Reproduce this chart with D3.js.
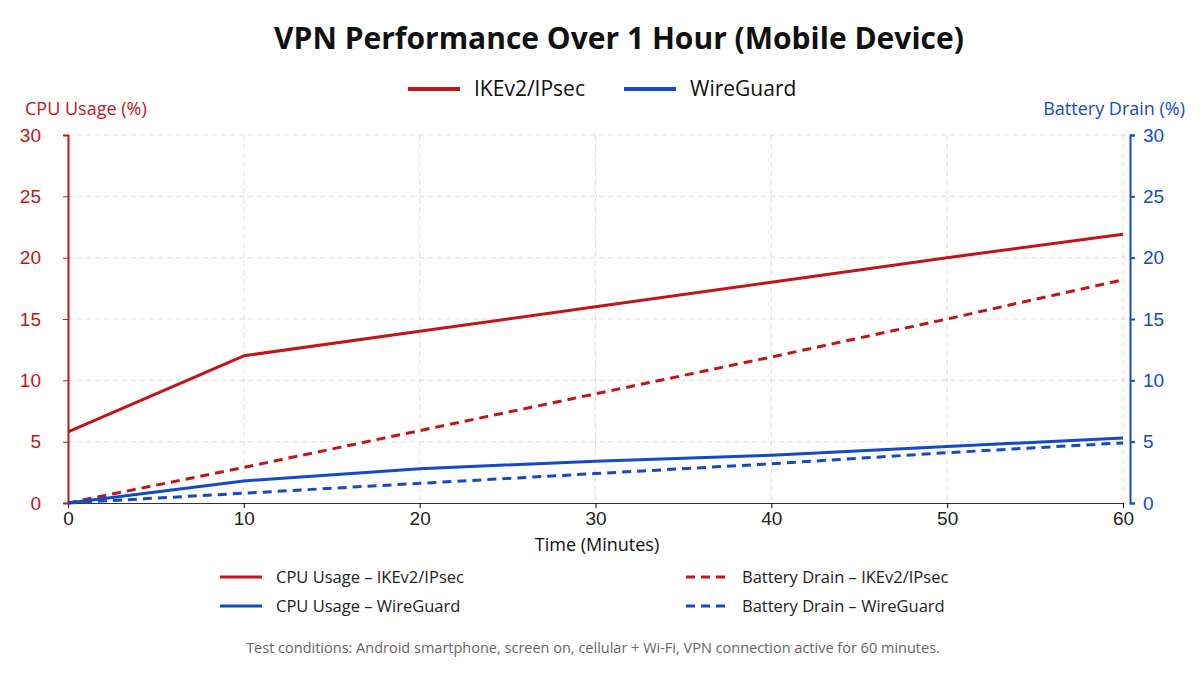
<!DOCTYPE html>
<html><head><meta charset="utf-8">
<script src="https://cdn.jsdelivr.net/npm/d3@7"></script>
<style>body{margin:0;background:#fff;font-family:"Open Sans",Roboto,sans-serif}</style>
</head><body><svg id="c" width="1200" height="675"></svg>
<script>
const minutes=[0,10,20,30,40,50,60];
const cpuIKE=[5.8,12,14,16,18,20,21.9];
const batIKE=[0,2.9,5.9,8.9,11.9,15,18.2];
const cpuWG=[0,1.8,2.8,3.4,3.9,4.6,5.3];
const batWG=[0,0.8,1.6,2.4,3.2,4.1,4.9];
const yTicks=[0,5,10,15,20,25,30];
const RED="#c0161b",BLUE="#1449c8";
const svg=d3.select("#c");
const x=d3.scaleLinear().domain([0,60]).range([68,1123]);
const y=d3.scaleLinear().domain([0,30]).range([503,135]);
const y2=d3.scaleLinear().domain([0,30]).range([503,135]);
svg.append("g").selectAll("line").data(yTicks.slice(1)).join("line")
 .attr("x1",68).attr("x2",1130).attr("y1",d=>y(d)).attr("y2",d=>y(d))
 .attr("stroke","#ddd").attr("stroke-dasharray","5,4");
svg.append("g").selectAll("line").data(minutes.slice(1)).join("line")
 .attr("x1",d=>x(d)).attr("x2",d=>x(d)).attr("y1",135).attr("y2",503)
 .attr("stroke","#ddd").attr("stroke-dasharray","5,4");
const gx=svg.append("g").attr("transform","translate(0,503)").call(d3.axisBottom(x).tickValues(minutes).tickSize(5).tickPadding(4));
gx.selectAll("text").attr("font-size",19).attr("fill","#222");
gx.select(".domain").attr("stroke","#333");
const gl=svg.append("g").attr("transform","translate(68,0)").call(d3.axisLeft(y).tickValues(yTicks).tickSize(5).tickPadding(22));
gl.selectAll("text").attr("font-size",19).attr("fill",RED);
gl.selectAll("line,.domain").attr("stroke",RED);
gl.select(".domain").attr("stroke-width",2);
const gr=svg.append("g").attr("transform","translate(1130,0)").call(d3.axisRight(y2).tickValues(yTicks).tickSize(5).tickPadding(8));
gr.selectAll("text").attr("font-size",19).attr("fill",BLUE);
gr.selectAll("line,.domain").attr("stroke",BLUE).attr("stroke-width",2);
const line=(ys,sc)=>d3.line().x((d,i)=>x(minutes[i])).y(d=>sc(d))(ys);
const series=[[cpuIKE,y,RED,null],[batIKE,y2,RED,"9,6"],[cpuWG,y,BLUE,null],[batWG,y2,BLUE,"9,6"]];
series.forEach(s=>svg.append("path").attr("d",line(s[0],s[1])).attr("fill","none").attr("stroke",s[2]).attr("stroke-width",3).attr("stroke-linejoin","round").attr("stroke-dasharray",s[3]));
svg.append("text").attr("x",619).attr("y",49).attr("text-anchor","middle").attr("font-size",30).attr("font-weight","bold").attr("fill","#111").text("VPN Performance Over 1 Hour (Mobile Device)");
svg.append("text").attr("x",25).attr("y",115).attr("font-size",18).attr("fill",RED).text("CPU Usage (%)");
svg.append("text").attr("x",1185).attr("y",115).attr("text-anchor","end").attr("font-size",18).attr("fill",BLUE).text("Battery Drain (%)");
svg.append("text").attr("x",597).attr("y",551).attr("text-anchor","middle").attr("font-size",18).attr("fill","#111").text("Time (Minutes)");
[[408,"IKEv2/IPsec",RED],[624,"WireGuard",BLUE]].forEach(l=>{
 svg.append("line").attr("x1",l[0]).attr("x2",l[0]+52).attr("y1",89).attr("y2",89).attr("stroke",l[2]).attr("stroke-width",4);
 svg.append("text").attr("x",l[0]+66).attr("y",96).attr("font-size",21).attr("fill","#111").text(l[1]);
});
[[220,577,RED,null,"CPU Usage – IKEv2/IPsec"],[686,577,RED,"9,6","Battery Drain – IKEv2/IPsec"],
 [220,606,BLUE,null,"CPU Usage – WireGuard"],[686,606,BLUE,"9,6","Battery Drain – WireGuard"]].forEach(l=>{
 svg.append("line").attr("x1",l[0]).attr("x2",l[0]+42).attr("y1",l[1]).attr("y2",l[1]).attr("stroke",l[2]).attr("stroke-width",3).attr("stroke-dasharray",l[3]);
 svg.append("text").attr("x",l[0]+56).attr("y",l[1]+6).attr("font-size",16.5).attr("fill","#222").text(l[4]);
});
svg.append("text").attr("x",593).attr("y",653).attr("text-anchor","middle").attr("font-size",14.5).attr("fill","#666").text("Test conditions: Android smartphone, screen on, cellular + Wi-Fi, VPN connection active for 60 minutes.");
</script></body></html>
